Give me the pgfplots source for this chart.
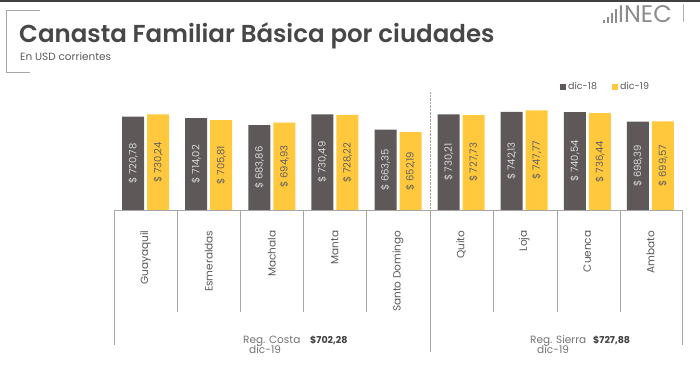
\documentclass[border=0pt]{standalone}
\usepackage{fontspec}
\setmainfont{Poppins}
\newfontfamily\titlefont{Poppins}[UprightFont={* SemiBold}]
\usepackage{pgfplots}
\usepackage{pgfplotstable}
\pgfplotsset{compat=1.18}
\definecolor{darkbar}{HTML}{5E5859}
\definecolor{yelbar}{HTML}{FFC83D}
\definecolor{txtgray}{HTML}{595959}
\definecolor{linegray}{HTML}{A6A6A6}
\pgfplotstableread{
x d18 d19
0 720.78 730.24
1 714.02 705.81
2 683.86 694.93
3 730.49 728.22
4 663.35 652.19
5 730.21 727.73
6 742.13 747.77
7 740.54 736.44
8 698.39 699.57
}\datatable
\begin{document}
\begin{tikzpicture}[x=1pt,y=1pt]
\path[use as bounding box] (0,0) rectangle (700,374);
% top border
\fill[black!75] (0,372) rectangle (700,374);
% bracket
\draw[linegray, line width=0.8pt] (40,364) -- (6,364) -- (6,302) -- (30,302);
% title
\node[anchor=base west, inner sep=0pt, text=black!72, font=\fontsize{24.5}{28}\titlefont] at (19,331) {Canasta Familiar Básica por ciudades};
\node[anchor=base west, inner sep=0pt, text=txtgray, font=\fontsize{10.5}{12}\selectfont] at (20,313) {En USD corrientes};
% logo
\fill[black!45] (603,351) rectangle (605,354);
\fill[black!45] (607,351) rectangle (609,357);
\fill[black!45] (611,351) rectangle (613,361);
\fill[black!45] (615,351) rectangle (617,365);
\node[anchor=base west, inner sep=0pt, text=black!45, font=\fontsize{24}{26}\selectfont] at (618,351) {INEC};
\draw[black!30] (683,352) -- (683,370);
% legend
\fill[darkbar] (560,284) rectangle (566,290);
\node[anchor=base west, inner sep=0pt, text=txtgray, font=\fontsize{9.5}{10}\selectfont] at (568,284) {dic-18};
\fill[yelbar] (612,284) rectangle (618,290);
\node[anchor=base west, inner sep=0pt, text=txtgray, font=\fontsize{9.5}{10}\selectfont] at (620,284) {dic-19};
\begin{axis}[
  at={(114pt,164pt)}, anchor=south west,
  scale only axis, width=568pt, height=120pt,
  xmin=-0.5, xmax=8.5, ymin=310, ymax=838,
  axis y line=none, axis x line=bottom,
  x axis line style={-, draw=linegray},
  xtick={0,...,8},
  xticklabels={Guayaquil,Esmeraldas,Machala,Manta,Santo Domingo,Quito,Loja,Cuenca,Ambato},
  major tick length=0pt,
  xticklabel style={rotate=90, anchor=east, text=txtgray, font=\fontsize{10.5}{12}\selectfont},
  xticklabel shift=17pt,
  /pgf/number format/.cd, use comma, fixed, fixed zerofill, precision=2, 1000 sep={}, assume math mode=true,
]
\addplot[ybar, bar width=22pt, bar shift=-12.5pt, fill=darkbar, draw=none] table[x=x, y=d18] {\datatable};
\addplot[ybar, bar width=22pt, bar shift=12.5pt, fill=yelbar, draw=none] table[x=x, y=d19] {\datatable};
\addplot[draw=none, mark=none, point meta=explicit,
  nodes near coords={\$ \pgfmathprintnumber{\pgfplotspointmeta}},
  every node near coord/.append style={rotate=90, anchor=center, text=white!85!black, font=\fontsize{10}{11}\selectfont}]
  table[x expr=\thisrow{x}-0.1981, y expr=(\thisrow{d18}+310)/2, meta=d18] {\datatable};
\addplot[draw=none, mark=none, point meta=explicit,
  nodes near coords={\$ \pgfmathprintnumber{\pgfplotspointmeta}},
  every node near coord/.append style={rotate=90, anchor=center, text=black!62, font=\fontsize{10}{11}\selectfont}]
  table[x expr=\thisrow{x}+0.1981, y expr=(\thisrow{d19}+310)/2, meta=d19] {\datatable};
\end{axis}
% separators
\draw[linegray] (114,164) -- (114,29);
\draw[linegray] (682,164) -- (682,29);
\foreach \xx in {177.1,240.2,303.3,366.4,493.6,556.7,619.8} {\draw[linegray] (\xx,164) -- (\xx,62);}
\draw[linegray] (430,164) -- (430,22);
\draw[linegray, densely dotted] (430,164) -- (430,282);
% region annotations
\node[anchor=base west, inner sep=0pt, text=black!55, font=\fontsize{10.5}{12}\selectfont] at (243,30) {Reg. Costa};
\node[anchor=base west, inner sep=0pt, text=black!55, font=\fontsize{10.5}{12}\selectfont] at (249,20) {dic-19};
\node[anchor=base west, inner sep=0pt, text=black!75, font=\fontsize{9.5}{10}\selectfont\bfseries] at (310,30) {\$702,28};
\node[anchor=base west, inner sep=0pt, text=black!55, font=\fontsize{10.5}{12}\selectfont] at (530,30) {Reg. Sierra};
\node[anchor=base west, inner sep=0pt, text=black!55, font=\fontsize{10.5}{12}\selectfont] at (537,20) {dic-19};
\node[anchor=base west, inner sep=0pt, text=black!75, font=\fontsize{9.5}{10}\selectfont\bfseries] at (593,30) {\$727,88};
\end{tikzpicture}
\end{document}
